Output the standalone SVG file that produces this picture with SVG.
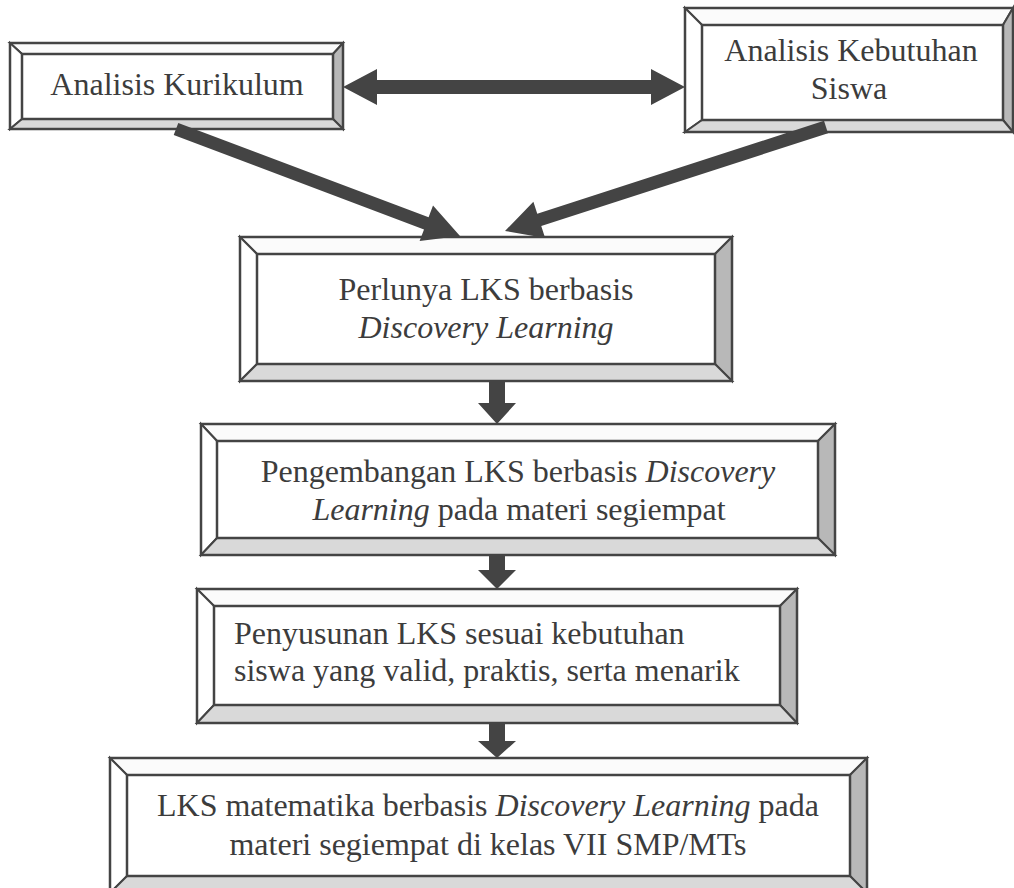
<svg xmlns="http://www.w3.org/2000/svg" width="1014" height="888" viewBox="0 0 1014 888">
<style>
.bg{fill:#ffffff}
.bt{fill:#fbfbfb;stroke:#444;stroke-width:2;stroke-linejoin:miter}
.bl{fill:#ffffff;stroke:#444;stroke-width:2}
.br{fill:#b8b8b8;stroke:#444;stroke-width:2}
.bb{fill:#d9d9d9;stroke:#444;stroke-width:2}
.in{fill:#ffffff;stroke:#444;stroke-width:2.5}
.out{fill:none;stroke:#444;stroke-width:2.5}
.t{font-family:"Liberation Serif","Times New Roman",serif;font-size:32px;fill:#3c3c3c}
.c{text-anchor:middle}
.i{font-style:italic}
.arr{fill:#444;stroke:none}
</style>
<rect class="bg" x="0" y="0" width="1014" height="888"/>
<g id="node-kurikulum">
<polygon class="bt" points="10,43 343,43 333,54 22,54"/>
<polygon class="bl" points="10,43 22,54 22,119 10,129"/>
<polygon class="br" points="343,43 343,129 333,119 333,54"/>
<polygon class="bb" points="10,129 22,119 333,119 343,129"/>
<rect class="in" x="22" y="54" width="311" height="65"/>
<rect class="out" x="10" y="43" width="333" height="86"/>
<text class="t c" x="177" y="95">Analisis Kurikulum</text>
</g>
<g id="node-kebutuhan">
<polygon class="bt" points="685,8 1013,8 1003,25 702,25"/>
<polygon class="bl" points="685,8 702,25 702,120 685,132"/>
<polygon class="br" points="1013,8 1013,132 1003,120 1003,25"/>
<polygon class="bb" points="685,132 702,120 1003,120 1013,132"/>
<rect class="in" x="702" y="25" width="301" height="95"/>
<rect class="out" x="685" y="8" width="328" height="124"/>
<text class="t c" x="851" y="61">Analisis Kebutuhan</text>
<text class="t c" x="849" y="99">Siswa</text>
</g>
<g id="node-perlunya">
<polygon class="bt" points="240,237 732,237 715,254 257,254"/>
<polygon class="bl" points="240,237 257,254 257,364 240,381"/>
<polygon class="br" points="732,237 732,381 715,364 715,254"/>
<polygon class="bb" points="240,381 257,364 715,364 732,381"/>
<rect class="in" x="257" y="254" width="458" height="110"/>
<rect class="out" x="240" y="237" width="492" height="144"/>
<text class="t c" x="486" y="300">Perlunya LKS berbasis</text>
<text class="t c i" x="486" y="338">Discovery Learning</text>
</g>
<g id="node-pengembangan">
<polygon class="bt" points="201,424 835,424 818,441 217,441"/>
<polygon class="bl" points="201,424 217,441 217,538 201,555"/>
<polygon class="br" points="835,424 835,555 818,538 818,441"/>
<polygon class="bb" points="201,555 217,538 818,538 835,555"/>
<rect class="in" x="217" y="441" width="601" height="97"/>
<rect class="out" x="201" y="424" width="634" height="131"/>
<text class="t c" x="518" y="482">Pengembangan LKS berbasis <tspan class="i">Discovery</tspan></text>
<text class="t c" x="519" y="520"><tspan class="i">Learning</tspan> pada materi segiempat</text>
</g>
<g id="node-penyusunan">
<polygon class="bt" points="197,589 797,589 780,606 214,606"/>
<polygon class="bl" points="197,589 214,606 214,705 197,723"/>
<polygon class="br" points="797,589 797,723 780,705 780,606"/>
<polygon class="bb" points="197,723 214,705 780,705 797,723"/>
<rect class="in" x="214" y="606" width="566" height="99"/>
<rect class="out" x="197" y="589" width="600" height="134"/>
<text class="t" x="234" y="644">Penyusunan LKS sesuai kebutuhan</text>
<text class="t" x="234" y="681">siswa yang valid, praktis, serta menarik</text>
</g>
<g id="node-hasil">
<polygon class="bt" points="110,758 867,758 850,775 127,775"/>
<polygon class="bl" points="110,758 127,775 127,876 110,893"/>
<polygon class="br" points="867,758 867,893 850,876 850,775"/>
<polygon class="bb" points="110,893 127,876 850,876 867,893"/>
<rect class="in" x="127" y="775" width="723" height="101"/>
<rect class="out" x="110" y="758" width="757" height="135"/>
<text class="t c" x="488" y="816">LKS matematika berbasis <tspan class="i">Discovery Learning</tspan> pada</text>
<text class="t c" x="488" y="855">materi segiempat di kelas VII SMP/MTs</text>
</g>
<g id="connectors">
<polygon class="arr" points="343,87 377,69 377,80 651,80 651,69 685,87 651,105 651,94 377,94 377,105"/>
<polygon class="arr" points="178.29,122.92 428.60,217.23 433.01,205.53 460,236 419.61,241.09 424.02,229.39 173.71,135.08"/>
<polygon class="arr" points="824.00,120.82 537.25,213.72 533.39,201.82 505,231 545.11,237.98 541.25,226.08 828.00,133.18"/>
<polygon class="arr" points="489,381 505,381 505,403 516,403 497,424 478,403 489,403"/>
<polygon class="arr" points="489,555 505,555 505,570 516,570 497,589 478,570 489,570"/>
<polygon class="arr" points="489,723 505,723 505,741 516,741 497,758 478,741 489,741"/>
</g>
</svg>
